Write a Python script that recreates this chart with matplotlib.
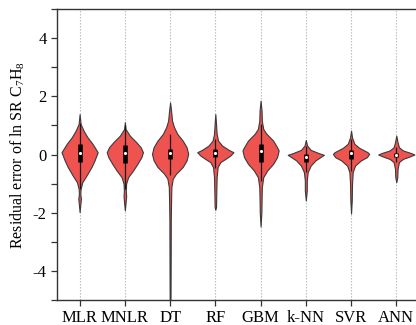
import matplotlib.pyplot as plt
import numpy as np

plt.rcParams['font.family'] = ['Liberation Serif', 'DejaVu Serif']
plt.rcParams['mathtext.default'] = 'regular'

models = ['MLR', 'MNLR', 'DT', 'RF', 'GBM', 'k-NN', 'SVR', 'ANN']

# violin outlines: residual value and relative half width
mlr_y = [1.39, 1.05, 0.82, 0.59, 0.37, 0.08, -0.21, -0.43, -0.72, -0.95, -1.18, -1.35, -1.52, -1.69, -1.98]
mlr_w = [0, 1, 4, 8, 13, 18.3, 15, 12, 7, 2.7, 1, 0.7, 1.3, 0.8, 0]
mnlr_y = [1.11, 0.88, 0.65, 0.42, 0.25, 0.08, -0.09, -0.32, -0.55, -0.78, -1.0, -1.23, -1.44, -1.63, -1.92]
mnlr_w = [0, 0.7, 5, 11.7, 16, 18.3, 16.7, 12.7, 8.3, 3.3, 1.3, 1, 1.3, 0.8, 0]
dt_y = [1.79, 1.51, 1.16, 0.94, 0.71, 0.48, 0.25, 0.02, -0.2, -0.43, -0.66, -0.83, -1.12, -1.58, -2.26, -3.5, -5.4]
dt_w = [0, 1, 2, 4, 7.3, 12.7, 16.7, 18.3, 16.7, 12.7, 6, 2.7, 1.3, 1, 0.7, 0.6, 0.4]
rf_y = [1.39, 1.05, 0.71, 0.48, 0.31, 0.16, 0.08, -0.03, -0.15, -0.26, -0.43, -0.78, -1.23, -1.8, -1.9]
rf_w = [0, 0.7, 1.3, 2.7, 6.7, 13.3, 18, 15, 10, 5, 2.3, 1.3, 1, 0.7, 0]
gbm_y = [1.85, 1.51, 1.16, 0.88, 0.71, 0.48, 0.25, 0.14, -0.09, -0.32, -0.55, -0.78, -1.12, -1.58, -2.0, -2.47]
gbm_w = [0, 1, 1.3, 2.7, 6, 12.7, 16.7, 18.3, 16.7, 12.7, 6.7, 2.7, 1.3, 1, 0.8, 0]
knn_y = [0.5, 0.31, 0.16, 0.05, -0.01, -0.09, -0.2, -0.38, -0.6, -0.89, -1.23, -1.58]
knn_w = [0, 1.3, 5, 13.3, 18.7, 15, 10, 5, 2, 1, 1, 0]
svr_y = [0.82, 0.59, 0.37, 0.23, 0.08, 0.02, -0.09, -0.2, -0.38, -0.6, -1.0, -1.58, -2.03]
svr_w = [0, 1, 3.3, 8.3, 16.7, 18.3, 16, 10, 4, 1.7, 1, 0.7, 0]
ann_y = [0.65, 0.42, 0.25, 0.14, 0.05, 0.0, -0.07, -0.15, -0.26, -0.49, -0.78, -0.95]
ann_w = [0, 1.3, 2.7, 6.7, 15, 18.3, 13.3, 6.7, 2.7, 1.3, 1, 0]

# inner box statistics
q1 = [-0.26, -0.30, -0.15, -0.07, -0.24, -0.26, -0.15, -0.07]
q3 = [0.37, 0.34, 0.19, 0.19, 0.37, 0.02, 0.14, 0.07]
medians = [0.04, 0.06, 0.05, 0.06, 0.11, -0.10, 0.05, 0.0]
whisk_lo = [-1.2, -1.2, -0.7, -0.45, -0.9, -0.6, -0.55, -0.25]
whisk_hi = [1.1, 1.0, 0.7, 0.55, 1.05, 0.3, 0.55, 0.25]

outlines = [(mlr_y, mlr_w), (mnlr_y, mnlr_w), (dt_y, dt_w), (rf_y, rf_w),
            (gbm_y, gbm_w), (knn_y, knn_w), (svr_y, svr_w), (ann_y, ann_w)]

stats = []
for i, (ys, ws) in enumerate(outlines):
    ys = np.array(ys)
    stats.append({'coords': ys, 'vals': np.array(ws, dtype=float),
                  'mean': medians[i], 'median': medians[i],
                  'min': ys.min(), 'max': ys.max()})

pos = np.arange(len(models))

fig = plt.figure(figsize=(4.16, 3.25), dpi=100)
ax = fig.add_axes([0.137, 0.077, 0.870, 0.895])

for p in pos:
    ax.axvline(p, color='#b8b8b8', ls=(0, (1.2, 1.5)), lw=0.8, zorder=0)

parts = ax.violin(stats, positions=pos, widths=0.8, showmeans=False,
                  showextrema=False, showmedians=False)
for b in parts['bodies']:
    b.set_facecolor('#EE534F')
    b.set_edgecolor('#3a3a3a')
    b.set_linewidth(0.8)
    b.set_alpha(1)
    b.set_zorder(2)

ax.vlines(pos, whisk_lo, whisk_hi, color='#1a1a1a', lw=0.9, zorder=3)
ax.vlines(pos, q1, q3, color='black', lw=3.3, zorder=4)
ax.scatter(pos, medians, s=5, color='white', zorder=5, linewidths=0)

ax.set_xlim(-0.5, 7.5)
ax.set_ylim(-5, 5)
ax.set_xticks(pos)
ax.set_xticklabels(models, fontsize=12)
ax.set_yticks(np.arange(-5, 6))
ax.set_yticklabels([str(v) if v % 2 == 0 and abs(v) < 5 else '' for v in range(-5, 6)], fontsize=12)
ax.set_ylabel('Residual error of ln SR C$_7$H$_8$', fontsize=11.5, labelpad=4)

for s in ['left', 'bottom', 'top']:
    ax.spines[s].set_color('#333333')
    ax.spines[s].set_linewidth(1.0)
ax.spines['right'].set_visible(False)
ax.tick_params(colors='#333333', length=4, width=0.9, labelcolor='black')

fig.savefig('out.png', dpi=100)
